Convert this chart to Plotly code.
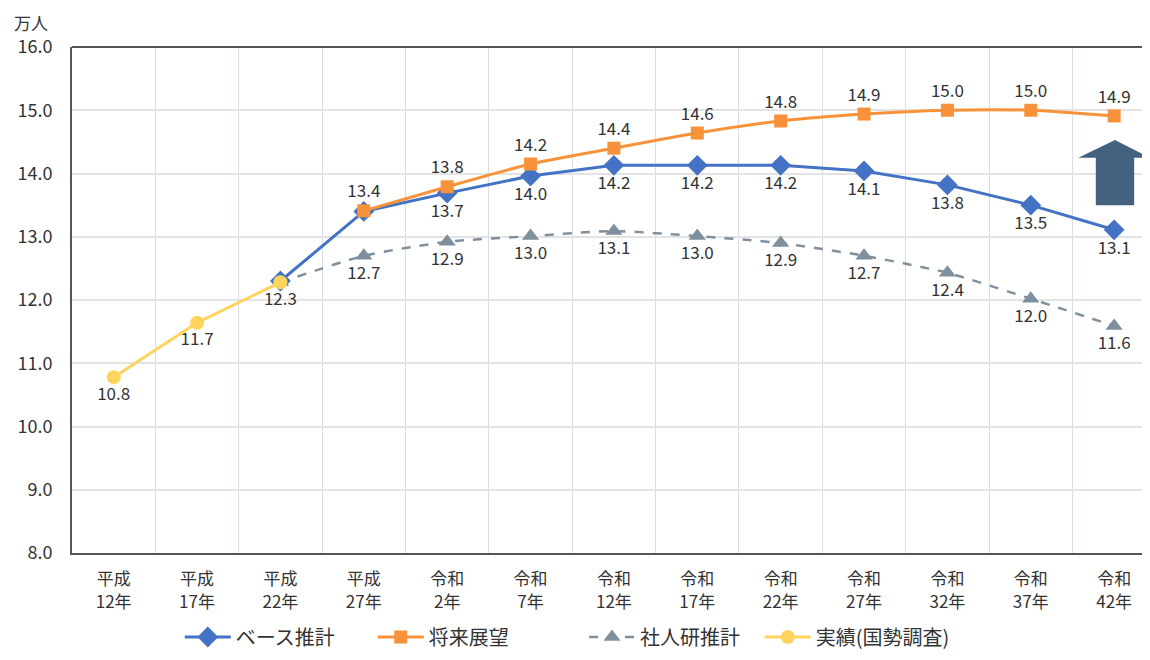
import plotly.graph_objects as go

categories = ["平成<br>12年", "平成<br>17年", "平成<br>22年", "平成<br>27年", "令和<br>2年", "令和<br>7年",
              "令和<br>12年", "令和<br>17年", "令和<br>22年", "令和<br>27年", "令和<br>32年", "令和<br>37年", "令和<br>42年"]

base_vals = [None, None, 12.3, 13.4, 13.69, 13.96, 14.13, 14.13, 14.13, 14.04, 13.82, 13.50, 13.11]
base_text = ["", "", "", "", "13.7", "14.0", "14.2", "14.2", "14.2", "14.1", "13.8", "13.5", "13.1"]

future_vals = [None, None, None, 13.41, 13.79, 14.15, 14.40, 14.64, 14.83, 14.94, 15.0, 15.0, 14.91]
future_text = ["", "", "", "13.4", "13.8", "14.2", "14.4", "14.6", "14.8", "14.9", "15.0", "15.0", "14.9"]

ipss_vals = [None, None, 12.28, 12.70, 12.92, 13.01, 13.09, 13.01, 12.90, 12.70, 12.43, 12.02, 11.59]
ipss_text = ["", "", "", "12.7", "12.9", "13.0", "13.1", "13.0", "12.9", "12.7", "12.4", "12.0", "11.6"]

actual_vals = [10.78, 11.64, 12.28, None, None, None, None, None, None, None, None, None, None]
actual_text = ["10.8", "11.7", "12.3", "", "", "", "", "", "", "", "", "", ""]

y_ticks = [8, 9, 10, 11, 12, 13, 14, 15, 16]

FONT = "Noto Sans CJK JP"
lab_font = dict(family=FONT, size=17, color="#333333")

fig = go.Figure()

fig.add_trace(go.Scatter(
    x=categories, y=ipss_vals, name="社人研推計", mode="lines+markers+text",
    line=dict(color="#7e909e", width=2.5, dash="dash", shape="spline", smoothing=0.6),
    marker=dict(symbol="triangle-up", size=15, color="#7e909e"),
    text=ipss_text, textposition="bottom center", textfont=lab_font,
    legend="legend3", showlegend=True))

fig.add_trace(go.Scatter(
    x=categories, y=base_vals, name="ベース推計", mode="lines+markers+text",
    line=dict(color="#4472c4", width=3),
    marker=dict(symbol="diamond", size=16, color="#4472c4"),
    text=base_text, textposition="bottom center", textfont=lab_font,
    legend="legend", showlegend=True))

fig.add_trace(go.Scatter(
    x=categories, y=future_vals, name="将来展望", mode="lines+markers+text",
    line=dict(color="#f7923a", width=3, shape="spline", smoothing=0.6),
    marker=dict(symbol="square", size=13, color="#f7923a"),
    text=future_text, textposition="top center", textfont=lab_font,
    legend="legend2", showlegend=True))

fig.add_trace(go.Scatter(
    x=categories, y=actual_vals, name="実績(国勢調査)", mode="lines+markers+text",
    line=dict(color="#ffd35c", width=3),
    marker=dict(symbol="circle", size=14, color="#ffd35c"),
    text=actual_text, textposition="bottom center", textfont=lab_font,
    legend="legend4", showlegend=True))

# upward arrow (decoration)
arrow_path = ("M 12.01 14.53 L 12.43 14.25 L 12.24 14.25 L 12.24 13.50 "
              "L 11.78 13.50 L 11.78 14.25 L 11.57 14.25 Z")
fig.add_shape(type="path", path=arrow_path, xref="x", yref="y",
              fillcolor="#44617f", line=dict(width=0))

fig.add_annotation(text="万人", xref="paper", yref="paper", x=-0.038, y=1.049,
                   xanchor="center", yanchor="middle", showarrow=False,
                   font=dict(family=FONT, size=17, color="#333333"))


def leg(xpos):
    return dict(orientation="h", x=xpos, xanchor="left", y=-0.166, yanchor="middle",
                font=dict(size=20, color="#333333"), itemwidth=46,
                bgcolor="rgba(0,0,0,0)", visible=True)


fig.update_layout(
    width=1142, height=644,
    showlegend=True,
    margin=dict(l=64, r=0, t=39, b=99, autoexpand=False),
    paper_bgcolor="white", plot_bgcolor="white",
    font=dict(family=FONT, color="#333333"),
    legend=leg(0.100),
    legend2=leg(0.279),
    legend3=leg(0.475),
    legend4=leg(0.638),
    xaxis=dict(type="category", range=[-0.5, 12.43], tickson="boundaries",
               showgrid=True, gridcolor="#dcdce6", gridwidth=1,
               ticks="", showline=True, linecolor="#555555", linewidth=2,
               ticklabelstandoff=10,
               tickfont=dict(size=17, color="#333333")),
    yaxis=dict(range=[8, 16], tickvals=y_ticks, tickformat=".1f",
               showgrid=True, gridcolor="#e3e3e3", gridwidth=1.5,
               showline=True, linecolor="#555555", linewidth=2,
               ticklabelstandoff=14,
               ticks="", tickfont=dict(size=18, color="#333333"), zeroline=False),
)

fig.add_shape(type="line", xref="paper", yref="paper", x0=0, x1=1, y0=1, y1=1,
              line=dict(color="#555555", width=2))

fig.write_html("out.html")
